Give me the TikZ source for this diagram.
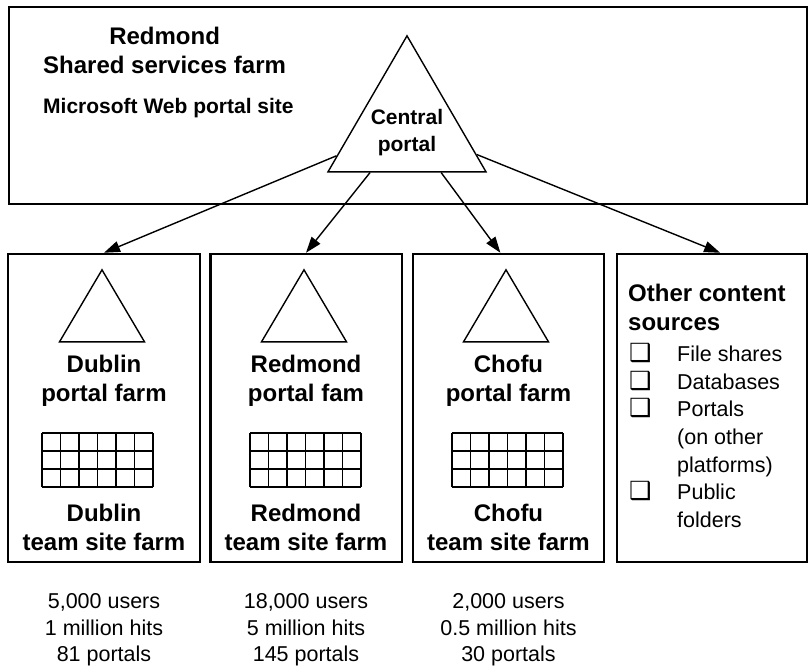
\documentclass[tikz,border=0pt]{standalone}
\usepackage{fontspec}
\setmainfont{Liberation Sans}
\newfontfamily\symfont{DejaVu Sans}
\usetikzlibrary{arrows.meta,shapes.geometric}

\newcommand{\srcbox}{{\symfont\fontsize{25}{25}\selectfont ❑}}

\begin{document}
\begin{tikzpicture}[
    x=1pt, y=-1pt,
    farmbox/.style={
      draw,
      line width=2.5pt,
      inner sep=0pt,
      minimum height=308pt
    },
    portal/.style={
      draw,
      line width=1.4pt,
      isosceles triangle,
      isosceles triangle stretches,
      shape border rotate=90,
      inner sep=0pt
    },
    title/.style={font=\fontsize{24}{29}\selectfont\bfseries, align=center, inner sep=0pt},
    label/.style={font=\fontsize{21}{27}\selectfont\bfseries, align=center, inner sep=0pt},
    stats/.style={font=\fontsize{21.5}{26.5}\selectfont, align=center, inner sep=0pt},
    items/.style={font=\fontsize{21.5}{27.7}\selectfont, align=left, inner sep=0pt},
    link/.style={line width=1.4pt, -{Triangle[length=16pt,width=11pt]}}
  ]

  \useasboundingbox (0,0) rectangle (809,665);

  % shared services farm
  \node[draw, line width=2.5pt, inner sep=0pt, minimum width=798pt, minimum height=197pt] (shared) at (408,105.5) {};
  \node[title, anchor=west] (sharedtitle) at (43,50) {Redmond\\Shared services farm};
  \node[label, anchor=west] (msweb) at (43,108) {Microsoft Web portal site};

  \node[portal, minimum width=158pt, minimum height=136pt, anchor=apex] (central) at (407,34) {};
  \node[label] (centraltext) at (407,133) {Central\\portal};

  % regional farms
  \node[farmbox, minimum width=192pt] (dublin) at (104,408) {};
  \node[farmbox, minimum width=191.5pt] (redmond) at (306,408) {};
  \node[farmbox, minimum width=191pt] (chofu) at (508.5,408) {};
  \node[farmbox, minimum width=190pt] (other) at (712,408) {};

  \node[portal, minimum width=85pt, minimum height=72pt, anchor=apex] (dublintri) at (102,268) {};
  \node[portal, minimum width=85pt, minimum height=72pt, anchor=apex] (redmondtri) at (304,268) {};
  \node[portal, minimum width=85pt, minimum height=72pt, anchor=apex] (chofutri) at (506,268) {};

  \node[title] (dublinportal) at (104,381) {Dublin\\portal farm};
  \node[title] (redmondportal) at (306,381) {Redmond\\portal fam};
  \node[title] (chofuportal) at (508.5,381) {Chofu\\portal farm};

  \draw[line width=1.4pt, shift={(42,433)}] (0,0) grid[xstep=18.5pt, ystep=18pt] (111,54);
  \draw[line width=1.4pt, shift={(250,433)}] (0,0) grid[xstep=18.5pt, ystep=18pt] (111,54);
  \draw[line width=1.4pt, shift={(452,433)}] (0,0) grid[xstep=18.5pt, ystep=18pt] (111,54);

  \node[title] (dublinteam) at (104,527.5) {Dublin\\team site farm};
  \node[title] (redmondteam) at (306,527.5) {Redmond\\team site farm};
  \node[title] (chofuteam) at (508.5,527.5) {Chofu\\team site farm};

  % other sources
  \node[title, anchor=north west, align=left] (othertitle) at (628,284) {Other content\\sources};
  \node[items, anchor=north west] (otherlist) at (629,343) {%
    \makebox[48pt][l]{\srcbox}File shares\\
    \makebox[48pt][l]{\srcbox}Databases\\
    \makebox[48pt][l]{\srcbox}Portals\\
    \hspace*{48pt}(on other\\
    \hspace*{48pt}platforms)\\
    \makebox[48pt][l]{\srcbox}Public\\
    \hspace*{48pt}folders};

  % figures
  \node[stats] (dublinstats) at (104,630) {5,000 users\\1 million hits\\81 portals};
  \node[stats] (redmondstats) at (306,630) {18,000 users\\5 million hits\\145 portals};
  \node[stats] (chofustats) at (508.5,630) {2,000 users\\0.5 million hits\\30 portals};

  \draw[link] (central) -- (dublin.north);
  \draw[link] (central) -- (redmond.north);
  \draw[link] (central) -- (chofu.93);
  \draw[link] (central) -- (other.87);

\end{tikzpicture}
\end{document}
